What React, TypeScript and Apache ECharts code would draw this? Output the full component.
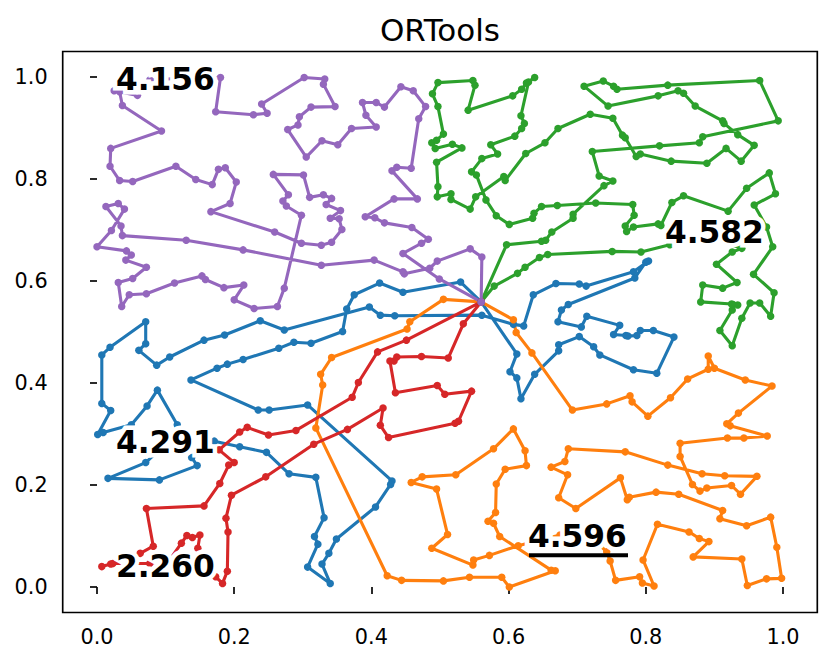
import React, { useEffect, useRef } from "react";
import * as echarts from "echarts";

const FONT = '"DejaVu Sans", sans-serif';
const titleText = "ORTools";
const tickValues = [0, 0.2, 0.4, 0.6, 0.8, 1.0];
const depot: [number, number] = [0.56, 0.559];

const blueRoute: [number, number][] = [
  depot, [0.53, 0.598], [0.446, 0.578], [0.412, 0.596], [0.375, 0.573], [0.364, 0.545], [0.358, 0.501], [0.312, 0.478], [0.287, 0.48], [0.265, 0.468],
  [0.213, 0.446], [0.19, 0.437], [0.175, 0.429], [0.137, 0.406], [0.235, 0.347], [0.251, 0.347], [0.307, 0.357], [0.43, 0.208], [0.428, 0.201], [0.406, 0.157],
  [0.349, 0.094], [0.338, 0.066], [0.328, 0.045], [0.34, 0.007], [0.307, 0.039], [0.322, 0.084], [0.317, 0.099], [0.331, 0.136], [0.319, 0.215], [0.28, 0.222],
  [0.247, 0.264], [0.208, 0.275], [0.171, 0.286], [0.157, 0.288], [0.138, 0.254], [0.146, 0.238], [0.091, 0.21], [0.016, 0.213], [0.071, 0.244], [0.106, 0.288],
  [0.117, 0.318], [0.088, 0.386], [0.073, 0.355], [0.05, 0.318], [0.009, 0.303], [0.001, 0.299], [0.02, 0.346], [0.007, 0.36], [0.007, 0.455], [0.019, 0.47],
  [0.071, 0.52], [0.071, 0.477], [0.061, 0.464], [0.087, 0.435], [0.106, 0.451], [0.156, 0.484], [0.186, 0.494], [0.238, 0.522], [0.273, 0.504], [0.397, 0.549],
  [0.413, 0.533], [0.434, 0.532], [0.561, 0.533], [0.607, 0.515], [0.622, 0.512], [0.636, 0.573], [0.669, 0.595], [0.703, 0.594], [0.713, 0.59], [0.782, 0.618],
  [0.804, 0.639], [0.8, 0.637], [0.784, 0.606], [0.687, 0.554], [0.677, 0.543], [0.672, 0.52], [0.706, 0.51], [0.714, 0.531], [0.762, 0.513], [0.753, 0.495],
  [0.771, 0.493], [0.774, 0.492], [0.787, 0.493], [0.792, 0.503], [0.811, 0.503], [0.841, 0.49], [0.816, 0.419], [0.782, 0.426], [0.733, 0.455], [0.724, 0.471],
  [0.703, 0.491], [0.673, 0.475], [0.673, 0.463], [0.638, 0.417], [0.618, 0.369], [0.612, 0.41], [0.602, 0.422], [0.612, 0.457], depot,
];

const orangeRoute: [number, number][] = [
  depot, [0.505, 0.564], [0.456, 0.52], [0.452, 0.506], [0.342, 0.45], [0.326, 0.417], [0.329, 0.396], [0.319, 0.312], [0.423, 0.022], [0.444, 0.013],
  [0.505, 0.012], [0.543, 0.019], [0.59, 0.019], [0.601, 0.0], [0.668, 0.032], [0.662, 0.033], [0.587, 0.099], [0.578, 0.125], [0.57, 0.129], [0.581, 0.146],
  [0.582, 0.202], [0.595, 0.231], [0.626, 0.238], [0.624, 0.267], [0.607, 0.31], [0.578, 0.271], [0.523, 0.22], [0.474, 0.216], [0.458, 0.205], [0.495, 0.192],
  [0.511, 0.103], [0.488, 0.076], [0.548, 0.043], [0.549, 0.053], [0.572, 0.062], [0.614, 0.081], [0.675, 0.102], [0.733, 0.082], [0.743, 0.069], [0.748, 0.051],
  [0.756, 0.013], [0.791, 0.02], [0.795, 0.008], [0.812, 0.002], [0.796, 0.053], [0.817, 0.123], [0.863, 0.108], [0.878, 0.095], [0.892, 0.089], [0.869, 0.059],
  [0.94, 0.055], [0.948, 0.003], [0.976, 0.016], [0.998, 0.017], [0.991, 0.078], [0.982, 0.137], [0.947, 0.12], [0.908, 0.134], [0.912, 0.15], [0.848, 0.182],
  [0.815, 0.186], [0.776, 0.176], [0.773, 0.171], [0.763, 0.214], [0.698, 0.154], [0.673, 0.175], [0.686, 0.22], [0.662, 0.235], [0.682, 0.246], [0.687, 0.271],
  [0.77, 0.265], [0.832, 0.239], [0.882, 0.222], [0.915, 0.218], [0.962, 0.217], [0.938, 0.182], [0.925, 0.199], [0.889, 0.194], [0.879, 0.188], [0.868, 0.201],
  [0.85, 0.256], [0.85, 0.282], [0.919, 0.292], [0.943, 0.292], [0.977, 0.296], [0.923, 0.316], [0.918, 0.32], [0.935, 0.341], [0.984, 0.394], [0.945, 0.406],
  [0.9, 0.429], [0.891, 0.453], [0.891, 0.427], [0.861, 0.408], [0.836, 0.371], [0.803, 0.335], [0.78, 0.363], [0.777, 0.375], [0.743, 0.359], [0.693, 0.347],
  [0.634, 0.459], [0.611, 0.499], [0.607, 0.524], depot,
];

const greenRoute: [number, number][] = [
  depot, [0.597, 0.671], [0.648, 0.678], [0.654, 0.68], [0.663, 0.696], [0.694, 0.723], [0.694, 0.731], [0.739, 0.787], [0.752, 0.796], [0.732, 0.806],
  [0.722, 0.854], [0.82, 0.865], [0.878, 0.871], [0.883, 0.883], [0.993, 0.914], [0.966, 0.993], [0.832, 0.984], [0.758, 0.976], [0.753, 0.982], [0.738, 0.992],
  [0.71, 0.982], [0.745, 0.943], [0.818, 0.963], [0.847, 0.973], [0.855, 0.968], [0.872, 0.943], [0.912, 0.914], [0.914, 0.909], [0.934, 0.887], [0.958, 0.866],
  [0.939, 0.835], [0.917, 0.86], [0.889, 0.831], [0.837, 0.835], [0.792, 0.849], [0.786, 0.844], [0.77, 0.881], [0.766, 0.886], [0.752, 0.919], [0.719, 0.927],
  [0.672, 0.899], [0.653, 0.871], [0.625, 0.85], [0.595, 0.797], [0.593, 0.805], [0.552, 0.765], [0.544, 0.741], [0.516, 0.76], [0.516, 0.771], [0.496, 0.765],
  [0.497, 0.785], [0.495, 0.833], [0.532, 0.861], [0.518, 0.868], [0.493, 0.86], [0.488, 0.871], [0.495, 0.876], [0.505, 0.888], [0.497, 0.942], [0.489, 0.967],
  [0.497, 0.989], [0.548, 0.993], [0.551, 0.984], [0.541, 0.935], [0.606, 0.963], [0.619, 0.976], [0.626, 0.988], [0.638, 0.999], [0.629, 0.99], [0.618, 0.924],
  [0.623, 0.909], [0.619, 0.899], [0.609, 0.884], [0.574, 0.867], [0.584, 0.849], [0.561, 0.84], [0.546, 0.814], [0.553, 0.808], [0.567, 0.759], [0.582, 0.728],
  [0.601, 0.711], [0.635, 0.723], [0.637, 0.733], [0.648, 0.746], [0.671, 0.748], [0.727, 0.753], [0.781, 0.75], [0.783, 0.729], [0.77, 0.708], [0.772, 0.697],
  [0.782, 0.706], [0.818, 0.712], [0.822, 0.709], [0.838, 0.754], [0.855, 0.767], [0.92, 0.737], [0.947, 0.782], [0.98, 0.812], [0.989, 0.771], [0.958, 0.749],
  [0.976, 0.706], [0.985, 0.667], [0.957, 0.613], [0.987, 0.577], [0.982, 0.531], [0.966, 0.557], [0.952, 0.557], [0.94, 0.527], [0.926, 0.473], [0.908, 0.503],
  [0.926, 0.543], [0.927, 0.554], [0.934, 0.553], [0.925, 0.555], [0.88, 0.559], [0.883, 0.592], [0.912, 0.586], [0.933, 0.597], [0.903, 0.633], [0.926, 0.657],
  [0.94, 0.664], [0.886, 0.688], [0.835, 0.671], [0.793, 0.657], [0.751, 0.658], [0.657, 0.652], [0.645, 0.646], [0.624, 0.627], [0.613, 0.615], [0.579, 0.59], depot,
];

const redRoute: [number, number][] = [
  depot, [0.534, 0.516], [0.512, 0.449], [0.473, 0.452], [0.437, 0.451], [0.433, 0.443], [0.427, 0.443], [0.435, 0.381], [0.496, 0.395], [0.507, 0.378],
  [0.546, 0.384], [0.527, 0.325], [0.522, 0.321], [0.425, 0.293], [0.413, 0.317], [0.417, 0.351], [0.365, 0.309], [0.316, 0.28], [0.246, 0.216], [0.196, 0.18],
  [0.188, 0.135], [0.191, 0.108], [0.19, 0.031], [0.183, 0.007], [0.173, 0.02], [0.157, 0.041], [0.147, 0.076], [0.15, 0.102], [0.139, 0.097], [0.131, 0.101],
  [0.123, 0.086], [0.106, 0.053], [0.077, 0.046], [0.023, 0.046], [0.007, 0.04], [0.02, 0.045], [0.063, 0.066], [0.082, 0.08], [0.072, 0.154], [0.156, 0.159],
  [0.179, 0.203], [0.192, 0.239], [0.2, 0.244], [0.178, 0.269], [0.208, 0.304], [0.219, 0.313], [0.25, 0.298], [0.29, 0.307], [0.372, 0.372], [0.381, 0.401],
  [0.409, 0.461], [0.451, 0.484], depot,
];

const purpleRoute: [number, number][] = [
  depot, [0.561, 0.647], [0.544, 0.663], [0.496, 0.639], [0.485, 0.625], [0.448, 0.614], [0.446, 0.618], [0.404, 0.641], [0.327, 0.631], [0.213, 0.661],
  [0.13, 0.68], [0.037, 0.689], [0.035, 0.708], [0.013, 0.746], [0.031, 0.752], [0.04, 0.741], [0.021, 0.699], [0.0, 0.667], [0.043, 0.659], [0.05, 0.651],
  [0.042, 0.641], [0.072, 0.627], [0.052, 0.605], [0.031, 0.597], [0.036, 0.55], [0.047, 0.573], [0.072, 0.575], [0.113, 0.596], [0.153, 0.61], [0.158, 0.603],
  [0.185, 0.587], [0.214, 0.592], [0.2, 0.563], [0.229, 0.546], [0.263, 0.55], [0.273, 0.586], [0.298, 0.729], [0.276, 0.747], [0.271, 0.757], [0.279, 0.769],
  [0.257, 0.809], [0.301, 0.808], [0.31, 0.764], [0.33, 0.769], [0.342, 0.762], [0.334, 0.75], [0.355, 0.738], [0.34, 0.723], [0.353, 0.722], [0.357, 0.701],
  [0.342, 0.676], [0.327, 0.67], [0.298, 0.674], [0.259, 0.696], [0.166, 0.736], [0.194, 0.752], [0.203, 0.794], [0.187, 0.822], [0.177, 0.819], [0.168, 0.789],
  [0.144, 0.799], [0.115, 0.825], [0.052, 0.795], [0.033, 0.797], [0.019, 0.825], [0.02, 0.86], [0.094, 0.894], [0.037, 0.944], [0.033, 0.971], [0.025, 0.973],
  [0.059, 0.964], [0.077, 0.994], [0.128, 0.998], [0.18, 0.999], [0.173, 0.932], [0.228, 0.926], [0.248, 0.929], [0.24, 0.947], [0.302, 0.999], [0.332, 0.996],
  [0.33, 0.986], [0.347, 0.942], [0.312, 0.941], [0.295, 0.922], [0.293, 0.906], [0.278, 0.897], [0.305, 0.843], [0.328, 0.875], [0.351, 0.867], [0.371, 0.899],
  [0.407, 0.902], [0.392, 0.925], [0.387, 0.95], [0.407, 0.95], [0.419, 0.941], [0.443, 0.981], [0.461, 0.973], [0.479, 0.942], [0.469, 0.918], [0.458, 0.821],
  [0.437, 0.823], [0.43, 0.816], [0.467, 0.761], [0.433, 0.761], [0.391, 0.726], [0.405, 0.724], [0.419, 0.714], [0.459, 0.705], [0.483, 0.682], [0.473, 0.674],
  [0.446, 0.654], [0.499, 0.604], depot,
];

const routes = [
  { values: blueRoute, color: "#1f77b4" },
  { values: orangeRoute, color: "#ff7f0e" },
  { values: greenRoute, color: "#2ca02c" },
  { values: redRoute, color: "#d62728" },
  { values: purpleRoute, color: "#9467bd" },
];

const routeCosts = [
  { text: "4.156", left: 116, baseline: 90 },
  { text: "4.582", left: 665, baseline: 243 },
  { text: "4.291", left: 116, baseline: 453 },
  { text: "2.260", left: 116, baseline: 577 },
  { text: "4.596", left: 528, baseline: 547 },
];

function makeAxis(margin: number) {
  return {
    type: "value",
    min: -0.05,
    max: 1.05,
    splitLine: { show: false },
    axisLine: { show: false },
    axisTick: {
      show: true,
      customValues: tickValues,
      length: 7,
      lineStyle: { color: "#000", width: 1.67 },
    },
    axisLabel: {
      show: true,
      customValues: tickValues,
      color: "#000",
      fontFamily: FONT,
      fontSize: 20.8,
      margin,
      formatter: (v: number) => v.toFixed(1),
    },
  };
}

export default function App() {
  const ref = useRef<HTMLDivElement>(null);
  useEffect(() => {
    const chart = echarts.init(ref.current!, undefined, { renderer: "svg" });
    const labels = routeCosts.map((c) => ({
      type: "text",
      z: 100,
      x: c.left,
      y: c.baseline - 11.5,
      style: {
        text: c.text,
        font: `bold 31.25px ${FONT}`,
        fill: "#000",
        stroke: "#fff",
        lineWidth: 9,
        textAlign: "left",
        textVerticalAlign: "middle",
      },
    }));
    chart.setOption({
      animation: false,
      backgroundColor: "#fff",
      title: {
        text: titleText,
        left: 435,
        top: 9,
        textAlign: "center",
        textStyle: { color: "#000", fontFamily: FONT, fontSize: 31, fontWeight: "normal" },
      },
      grid: {
        show: true,
        left: 62.7,
        top: 51.5,
        width: 754.6,
        height: 561,
        borderColor: "#000",
        borderWidth: 1.67,
        backgroundColor: "#fff",
        containLabel: false,
      },
      xAxis: makeAxis(14),
      yAxis: makeAxis(15),
      series: routes.map((r) => ({
        type: "line",
        data: r.values,
        color: r.color,
        symbol: "circle",
        symbolSize: 7.5,
        showSymbol: true,
        showAllSymbol: true,
        clip: false,
        silent: true,
        lineStyle: { color: r.color, width: 3.1 },
        itemStyle: { color: r.color },
      })),
      graphic: [
        ...labels,
        {
          type: "line",
          z: 99,
          shape: { x1: 529, y1: 555.3, x2: 628, y2: 555.3 },
          style: { stroke: "#000", lineWidth: 4 },
        },
      ],
    });
    return () => chart.dispose();
  }, []);
  return <div ref={ref} style={{ position: "absolute", left: 0, top: 0, width: 831, height: 663 }} />;
}
